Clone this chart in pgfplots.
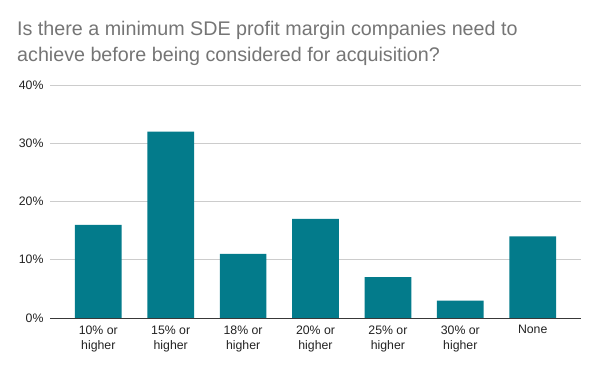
\documentclass[border=0pt]{standalone}
\usepackage{pgfplots}
\pgfplotsset{compat=1.18}
\usepackage{fontspec}
\setmainfont{Liberation Sans}
\definecolor{barteal}{RGB}{3,123,139}
\definecolor{titlegray}{RGB}{117,117,117}
\definecolor{gridgray}{RGB}{204,204,204}
\definecolor{labelgray}{RGB}{34,34,34}
\begin{document}
\begin{tikzpicture}
\path[use as bounding box] (0,0) rectangle (600bp,371bp);
\node[anchor=base west, text=titlegray, font=\fontsize{19.7bp}{26bp}\selectfont, inner sep=0pt] at (17bp,335bp) {Is there a minimum SDE profit margin companies need to};
\node[anchor=base west, text=titlegray, font=\fontsize{19.7bp}{26bp}\selectfont, inner sep=0pt] at (17bp,309bp) {achieve before being considered for acquisition?};
\begin{axis}[
  at={(50bp,53bp)}, anchor=south west,
  scale only axis, width=531bp, height=233bp,
  xmin=-0.667, xmax=6.667, ymin=0, ymax=40,
  axis line style={draw=none},
  ytick={0,10,20,30,40},
  yticklabel={\pgfmathprintnumber{\tick}\%},
  xtick={0,1,2,3,4,5,6},
  xticklabels={{10\% or\\higher},{15\% or\\higher},{18\% or\\higher},{20\% or\\higher},{25\% or\\higher},{30\% or\\higher},{None}},
  x tick label style={align=center, font=\fontsize{12.3bp}{15bp}\selectfont, text=labelgray, anchor=north, yshift=-4bp},
  y tick label style={font=\fontsize{12.3bp}{15bp}\selectfont, text=labelgray, anchor=east, xshift=-3bp},
  /pgf/number format/assume math mode=true,
  major tick length=0pt,
  ymajorgrids, grid style={gridgray, line width=0.8bp},
  bar width=0.645,
  clip=false,
]
\addplot[ybar, fill=barteal, draw=none] coordinates {(0,16) (1,32) (2,11) (3,17) (4,7) (5,3) (6,14)};
\draw[labelgray!90, line width=1bp] (axis cs:-0.667,0) -- (axis cs:6.667,0);
\end{axis}
\end{tikzpicture}
\end{document}
